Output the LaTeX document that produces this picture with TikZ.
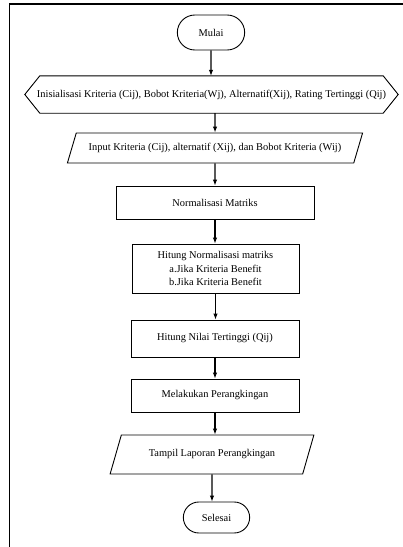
\documentclass[tikz,border=0pt]{standalone}
\usepackage{fontspec}
\setmainfont{Liberation Serif}
\usetikzlibrary{positioning, shapes.geometric, shapes.misc, arrows.meta}

\begin{document}
\begin{tikzpicture}[x=1pt, y=-1pt, font=\fontsize{10.4}{13.7}\selectfont]
	\tikzset{term/.style={rounded rectangle, draw, line width=0.9pt, minimum width=74pt, minimum height=35pt}}
	\tikzset{prep/.style={rectangle, minimum width=373pt, minimum height=37pt, inner xsep=0pt}}
	\tikzset{io/.style={trapezium, trapezium left angle=63, trapezium right angle=117, trapezium stretches=true, draw, line width=0.9pt}}
	\tikzset{proc/.style={rectangle, draw, line width=0.9pt, align=center}}
	\tikzset{arr/.style={-{Latex[length=6pt, width=4.5pt]}, line width=1.1pt}}

	\useasboundingbox (0,0) rectangle (403,547);
	\draw[line width=1.3pt] (9.5,547) -- (9.5,4) -- (403,4);

	\node[term] (mulai) at (211,32.5) {Mulai};
	\node[prep] (init) at (211.5,94.5) {Inisialisasi Kriteria (Cij), Bobot Kriteria(Wj), Alternatif(Xij), Rating Tertinggi (Qij)};
	% hexagon round the preparation node
	\draw[line width=0.9pt] (init.west) -- ([xshift=15pt]init.north west) -- ([xshift=-15pt]init.north east)
		-- (init.east) -- ([xshift=-15pt]init.south east) -- ([xshift=15pt]init.south west) -- cycle;
	\node[io, minimum width=296pt, minimum height=30pt] (input) at (215,148) {Input Kriteria (Cij), alternatif (Xij), dan Bobot Kriteria (Wij)};
	\node[proc, minimum width=198pt, minimum height=33pt] (norm) at (215,202.5) {Normalisasi Matriks};
	\node[proc, minimum width=167pt, minimum height=49pt] (hitnorm) at (215.5,268.5) {Hitung Normalisasi matriks\\a.Jika Kriteria Benefit\\b.Jika Kriteria Benefit};
	\node[proc, minimum width=168pt, minimum height=37pt] (nilai) at (215,338.5) {Hitung Nilai Tertinggi (Qij)};
	\node[proc, minimum width=168pt, minimum height=33pt] (rank) at (215,395.5) {Melakukan Perangkingan};
	\node[io, minimum width=204pt, minimum height=39pt] (tampil) at (212,454.5) {Tampil Laporan Perangkingan};
	\node[term, minimum width=73pt, minimum height=31pt] (selesai) at (216.5,517.5) {Selesai};

	\draw[arr] (mulai) -- (mulai |- init.north);
	\draw[arr] (init.south -| input) -- (input);
	\draw[arr] (input) -- (input |- norm.north);
	\draw[arr] (norm) -- (norm |- hitnorm.north);
	\draw[arr] (hitnorm) -- (hitnorm |- nilai.north);
	\draw[arr] (nilai) -- (nilai |- rank.north);
	\draw[arr] (rank) -- (rank |- tampil.north);
	\draw[arr] (tampil) -- (tampil |- selesai.north);
\end{tikzpicture}
\end{document}
